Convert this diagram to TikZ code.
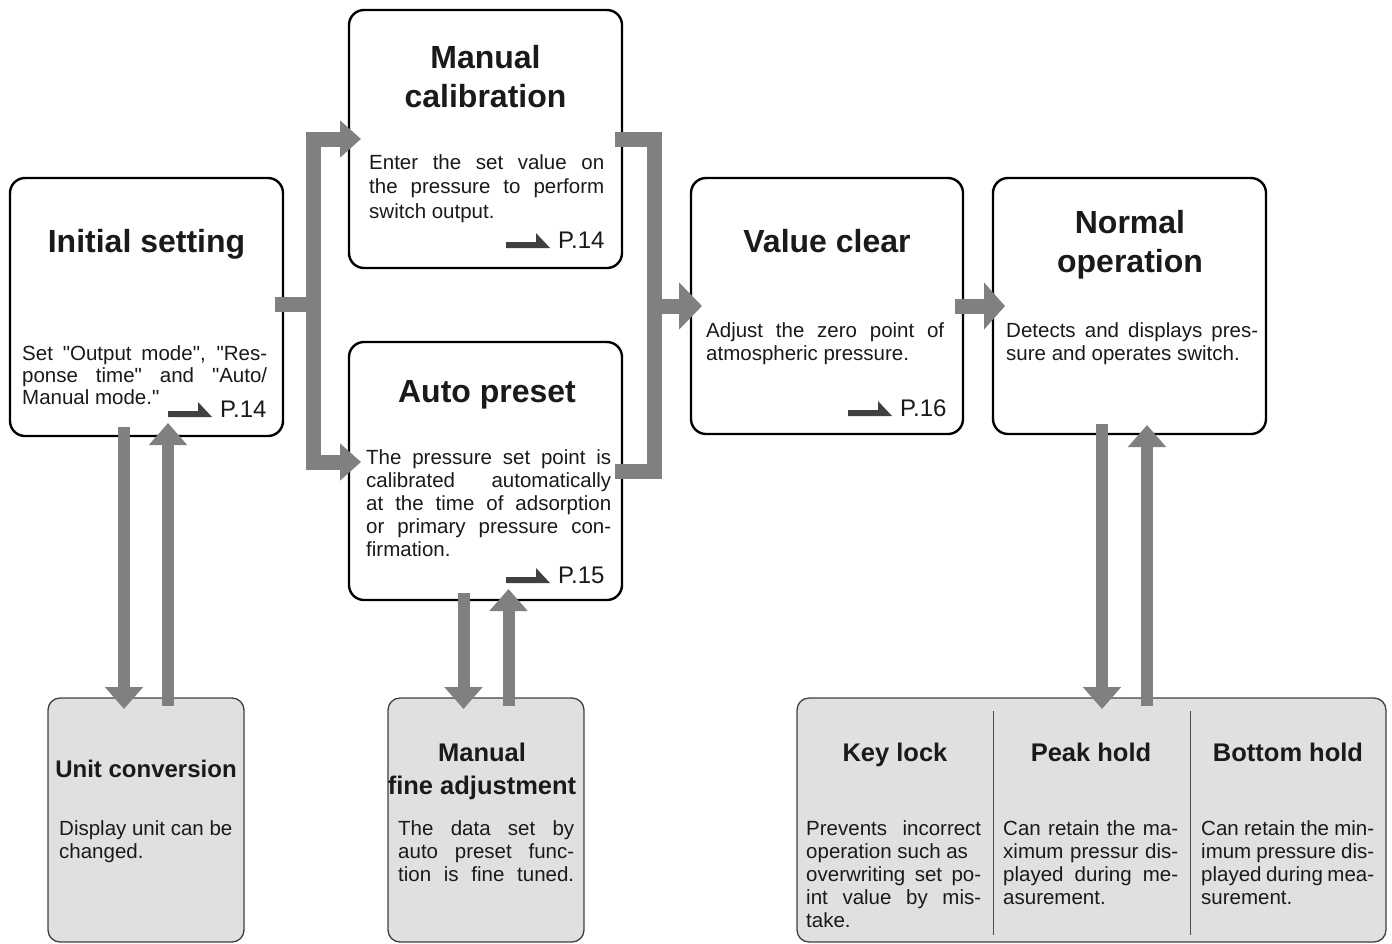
\documentclass[tikz,border=0pt]{standalone}
\usepackage{fontspec}
\setmainfont{Liberation Sans}[Ligatures=TeXOff]
\usetikzlibrary{arrows.meta}
\definecolor{arrowgray}{HTML}{808080}
\definecolor{subfill}{HTML}{E0E0E0}
\definecolor{refgray}{HTML}{404040}
\definecolor{ink}{HTML}{1A1A1A}
\newcommand\jline[1]{\makebox[\linewidth][s]{#1}}
\newcommand\nline[1]{\makebox[\linewidth][l]{#1}}
\newcommand\refmark[1]{\fill[refgray] ([xshift=-52pt]#1.base west) -- ++(44,0) -- ++(-14,-15) -- ++(0,9) -- ++(-30,0) -- cycle;}
\begin{document}
\begin{tikzpicture}[x=1pt,y=-1pt,
  boxmain/.style={draw=black, line width=2.4pt, rounded corners=15pt, fill=white, inner sep=0pt, outer sep=0pt, minimum width=273pt, minimum height=258pt},
  boxsub/.style={draw=black!75, line width=1.3pt, rounded corners=12pt, fill=subfill, inner sep=0pt, outer sep=0pt, minimum height=244pt},
  ttlmain/.style={font=\fontsize{32}{39}\selectfont\bfseries, text=ink, inner sep=0pt, anchor=base},
  ttlsub/.style={font=\fontsize{25.5}{33}\selectfont\bfseries, text=ink, inner sep=0pt, anchor=base},
  bodytext/.style={font=\fontsize{20.5}{23}\selectfont, text=ink, inner sep=0pt, anchor=base west},
  pagetext/.style={font=\fontsize{24}{24}\selectfont, text=ink, inner sep=0pt, anchor=base west},
  busline/.style={draw=arrowgray, line width=15pt, line join=miter},
  vline/.style={draw=arrowgray, line width=12pt, -{Triangle[width=37pt,length=22pt]}},
  divider/.style={draw=black!70, line width=1pt}
]
\useasboundingbox (0,0) rectangle (1392,943);

% main boxes
\node[boxmain] (is) at (146.5,307) {};
\node[boxmain] (mc) at (485.5,139) {};
\node[boxmain] (ap) at (485.5,471) {};
\node[boxmain, minimum width=272pt, minimum height=256pt] (vc) at (827,306) {};
\node[boxmain, minimum height=256pt] (no) at (1129.5,306) {};
% sub boxes
\node[boxsub, minimum width=196pt] (uc) at (146,820) {};
\node[boxsub, minimum width=196pt] (mf) at (486,820) {};
\node[boxsub, minimum width=589pt] (kp) at (1091.5,820) {};
\draw[divider] (993,711) -- (993,935);
\draw[divider] (1190,711) -- (1190,935);

% titles
\node[ttlmain] (ist) at (146.5,252.5) {Initial setting};
\node[ttlmain] (mct) at (485.5,68.5) {\begin{tabular}[t]{@{}c@{}}Manual\\calibration\end{tabular}};
\node[ttlmain] (apt) at (487,402.5) {Auto preset};
\node[ttlmain] (vct) at (827,252.5) {Value clear};
\node[ttlmain] (not) at (1130,233.5) {\begin{tabular}[t]{@{}c@{}}Normal\\operation\end{tabular}};
\node[ttlsub, font=\fontsize{24}{30}\selectfont\bfseries] (uct) at (146,777.5) {Unit conversion};
\node[ttlsub] (mft) at (482,761) {\begin{tabular}[t]{@{}c@{}}Manual\\fine adjustment\end{tabular}};
\node[ttlsub] (klt) at (895,761) {Key lock};
\node[ttlsub] (pht) at (1091,761) {Peak hold};
\node[ttlsub] (bht) at (1288,761) {Bottom hold};

% body texts
\node[bodytext, font=\fontsize{20.5}{22}\selectfont] (isb) at (22,360) {\parbox[t]{245pt}{\jline{Set "Output mode", "Res-}\\\jline{ponse time" and "Auto/}\\\nline{Manual mode."}}};
\node[bodytext, font=\fontsize{20.5}{24.5}\selectfont] (mcb) at (369,169) {\parbox[t]{235pt}{\jline{Enter the set value on}\\\jline{the pressure to perform}\\\nline{switch output.}}};
\node[bodytext] (apb) at (366,464) {\parbox[t]{245pt}{\jline{The pressure set point is}\\\jline{calibrated automatically}\\\jline{at the time of adsorption}\\\jline{or primary pressure con-}\\\nline{firmation.}}};
\node[bodytext] (vcb) at (706,337) {\parbox[t]{238pt}{\jline{Adjust the zero point of}\\\nline{atmospheric pressure.}}};
\node[bodytext] (nob) at (1006,337) {\parbox[t]{252pt}{\jline{Detects and displays pres-}\\\nline{sure and operates switch.}}};
\node[bodytext] (ucb) at (59,835) {\parbox[t]{176pt}{\nline{Display unit can be}\\\nline{changed.}}};
\node[bodytext] (mfb) at (398,835) {\parbox[t]{176pt}{\jline{The data set by}\\\jline{auto preset func-}\\\jline{tion is fine tuned.}}};
\node[bodytext] (klb) at (806,835) {\parbox[t]{175pt}{\jline{Prevents incorrect}\\\nline{operation such as}\\\jline{overwriting set po-}\\\jline{int value by mis-}\\\nline{take.}}};
\node[bodytext] (phb) at (1003,835) {\parbox[t]{175pt}{\jline{Can retain the ma-}\\\jline{ximum pressur dis-}\\\jline{played during me-}\\\nline{asurement.}}};
\node[bodytext] (bhb) at (1201,835) {\parbox[t]{173pt}{\jline{Can retain the min-}\\\jline{imum pressure dis-}\\\jline{played during mea-}\\\nline{surement.}}};

% page references
\node[pagetext] (isp) at (220,417) {P.14};
\node[pagetext] (mcp) at (558,248) {P.14};
\node[pagetext] (app) at (558,583) {P.15};
\node[pagetext] (vcp) at (900,416) {P.16};
\refmark{isp}
\refmark{mcp}
\refmark{app}
\refmark{vcp}

% connectors
\coordinate (busL) at ([xshift=30pt]is.east);
\coordinate (apin) at ([xshift=12pt,yshift=9pt]ap.west);
\draw[busline, {Triangle[width=36pt,length=21pt]}-{Triangle[width=36pt,length=21pt]}]
  ([xshift=12pt]mc.west) -- (mc.west -| busL) -- (apin -| busL) -- (apin);
\draw[busline] ([xshift=-8pt,yshift=3pt]is.east) -- ([yshift=3pt]busL);
\coordinate (busR) at ([xshift=32pt]mc.east);
\draw[busline] ([xshift=-7pt]mc.east) -- (busR) -- (ap.east -| busR) -- ([xshift=-7pt]ap.east);
\draw[busline, -{Triangle[width=46pt,length=23pt]}] (vc.west -| busR) -- ([xshift=11pt]vc.west);
\draw[busline, -{Triangle[width=46pt,length=21pt]}] ([xshift=-8pt]vc.east) -- ([xshift=12pt]no.west);

\draw[vline] ([xshift=-22.5pt,yshift=9pt]is.south) -- ([xshift=-22pt,yshift=-11pt]uc.north);
\draw[vline] ([xshift=22pt,yshift=-8pt]uc.north) -- ([xshift=21.5pt,yshift=13pt]is.south);
\draw[vline] ([xshift=-22pt,yshift=7pt]ap.south) -- ([xshift=-22.5pt,yshift=-11pt]mf.north);
\draw[vline] ([xshift=22.5pt,yshift=-8pt]mf.north) -- ([xshift=23pt,yshift=11pt]ap.south);
\draw[vline] ([xshift=-27.5pt,yshift=10pt]no.south) -- ([xshift=10.5pt,yshift=-11pt]kp.north);
\draw[vline] ([xshift=55.5pt,yshift=-8pt]kp.north) -- ([xshift=17.5pt,yshift=9pt]no.south);
\end{tikzpicture}
\end{document}
